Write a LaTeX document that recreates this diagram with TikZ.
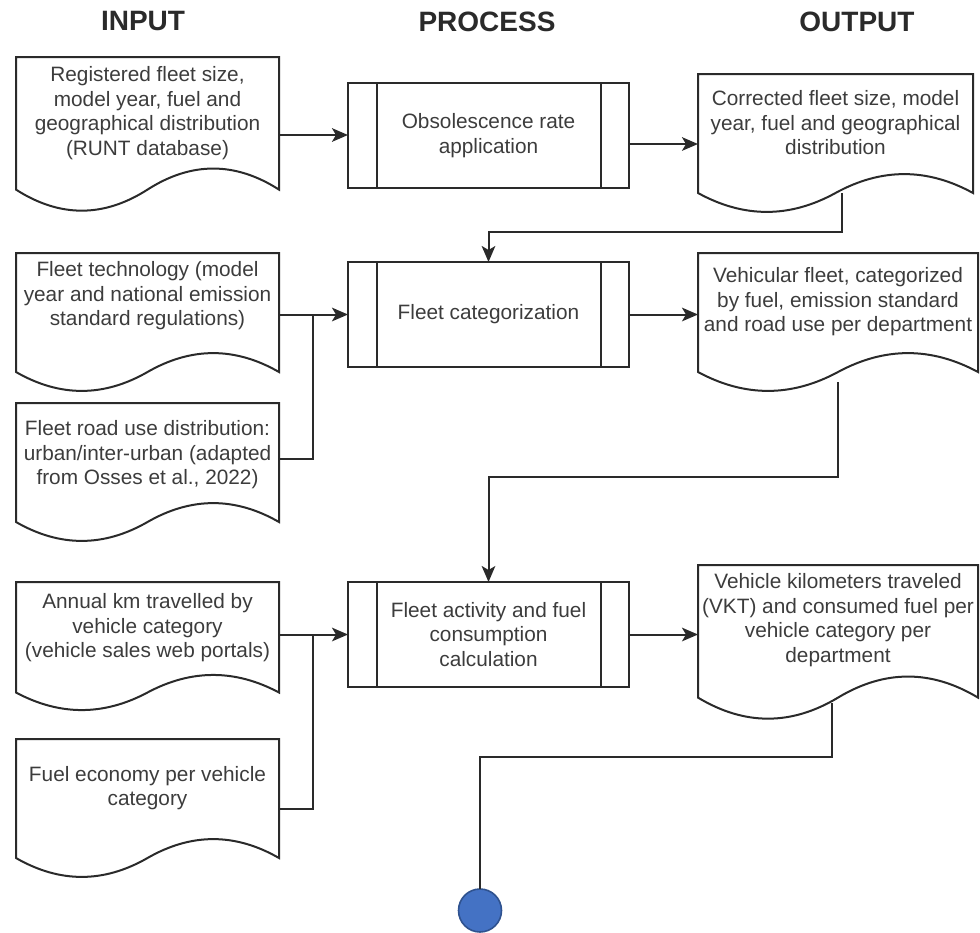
\documentclass[tikz,border=0pt]{standalone}
\usepackage{fontspec}
\setmainfont{Liberation Sans}
\usetikzlibrary{arrows.meta,calc}
\definecolor{ink}{HTML}{2A2A2A}
\definecolor{txt}{HTML}{3C3C3C}
\definecolor{dotfill}{HTML}{4472C4}
\definecolor{dotline}{HTML}{2F528F}
\tikzset{
  lnk/.style={draw=ink, line width=1pt},
  arr/.style={lnk, -{Stealth[length=8pt,width=6.8pt,inset=2pt]}},
  shapeline/.style={draw=ink, line width=1pt, line join=miter},
  docframe/.style={rectangle, draw=none, inner sep=0pt, outer sep=0pt},
  doctext/.style={align=center, text=txt, inner sep=0pt, font=\fontsize{10.4}{12.25}\selectfont},
  procbox/.style={rectangle, draw=ink, line width=1pt, inner sep=0pt, outer sep=0pt, align=center, text=txt, font=\fontsize{10.4}{12.25}\selectfont},
  head/.style={text=ink, inner sep=0pt, font=\fontsize{14}{16}\selectfont\bfseries},
  enddot/.style={circle, fill=dotfill, draw=dotline, line width=0.8pt, minimum size=21.5pt, inner sep=0pt, outer sep=0pt}
}
% name, x, y, w, h, text-center-y, text
\newcommand{\makedoc}[7]{%
  \node[docframe, minimum width={#4*0.5pt}, minimum height={#5*0.5pt}] (#1) at ({#2+#4/2},{#3+#5/2}) {};
  \draw[shapeline] (#2,#3) -- ({#2+#4},#3) -- ({#2+#4},{#3+0.85*#5})
    .. controls ({#2+0.8333*#4},{#3+0.67*#5}) and ({#2+0.6667*#4},{#3+0.67*#5}) .. ({#2+0.5*#4},{#3+0.85*#5})
    .. controls ({#2+0.3333*#4},{#3+1.03*#5}) and ({#2+0.1667*#4},{#3+1.03*#5}) .. (#2,{#3+0.85*#5}) -- cycle;
  \node[doctext] (#1-label) at ({#2+#4/2},#6) {#7};
}
% name, x, y, w, h, text
\newcommand{\makeproc}[6]{%
  \node[procbox, minimum width={#4*0.5pt}, minimum height={#5*0.5pt}] (#1) at ({#2+#4/2},{#3+#5/2}) {#6};
  \draw[shapeline] ([xshift=14.25pt]#1.north west) -- ([xshift=14.25pt]#1.south west);
  \draw[shapeline] ([xshift=-14.25pt]#1.north east) -- ([xshift=-14.25pt]#1.south east);
}
\begin{document}
\begin{tikzpicture}[x=0.5pt,y=-0.5pt]
\useasboundingbox (0,0) rectangle (980,932);

% headers
\node[head] (hin) at (143,21.5) {INPUT};
\node[head] (hproc) at (487,21.5) {PROCESS};
\node[head] (hout) at (857,21.5) {OUTPUT};

% input documents
\makedoc{in1}{16}{57}{263}{156}{113}{Registered fleet size,\\model year, fuel and\\geographical distribution\\(RUNT database)}
\makedoc{in2}{16}{253}{263}{140}{296}{Fleet technology (model\\year and national emission\\standard regulations)}
\makedoc{in3}{16}{403}{263}{140}{455}{Fleet road use distribution:\\urban/inter-urban (adapted\\from Osses et al., 2022)}
\makedoc{in4}{16}{582}{263}{130}{628}{Annual km travelled by\\vehicle category\\(vehicle sales web portals)}
\makedoc{in5}{16}{739}{263}{140}{788}{Fuel economy per vehicle\\category}

% output documents
\makedoc{out1}{698}{74}{275}{140}{123}{Corrected fleet size, model\\year, fuel and geographical\\distribution}
\makedoc{out2}{698}{253}{280}{140}{302}{Vehicular fleet, categorized\\by fuel, emission standard\\and road use per department}
\makedoc{out3}{698}{565}{280}{156}{620}{Vehicle kilometers traveled\\(VKT) and consumed fuel per\\vehicle category per\\department}

% processes
\makeproc{p1}{348}{83}{281}{105}{Obsolescence rate\\application}
\makeproc{p2}{348}{262}{281}{105}{Fleet categorization}
\makeproc{p3}{348}{582}{281}{105}{Fleet activity and fuel\\consumption\\calculation}

% end point
\node[enddot] (end) at (480,910.5) {};

% connectors row 1
\draw[arr] (in1.east) -- (in1.east -| p1.west);
\draw[arr] (p1.east |- out1.west) -- (out1.west);
\coordinate (o1b) at (842,193);
\draw[arr] (o1b) |- ($(p2.north)+(0,-30)$) -- (p2.north);

% connectors row 2
\draw[arr] (in2.east |- p2.west) -- (p2.west);
\coordinate (in3out) at ($(in3.east)+(0,-14)$);
\coordinate (j1) at ($(in2.east |- p2.west)+(34,0)$);
\draw[lnk] (in3out) -| (j1);
\draw[arr] (p2.east) -- (p2.east -| out2.west);
\coordinate (o2b) at (838,382);
\draw[arr] (o2b) |- ($(p3.north)+(0,-105)$) -- (p3.north);

% connectors row 3
\draw[arr] (in4.east |- p3.west) -- (p3.west);
\coordinate (j2) at ($(in4.east |- p3.west)+(34,0)$);
\draw[lnk] (in5.east) -| (j2);
\draw[arr] (p3.east) -- (p3.east -| out3.west);
\coordinate (o3b) at (832,703);
\draw[lnk] (o3b) |- ($(end.north)+(0,-132)$) -- (end.north);
\end{tikzpicture}
\end{document}
